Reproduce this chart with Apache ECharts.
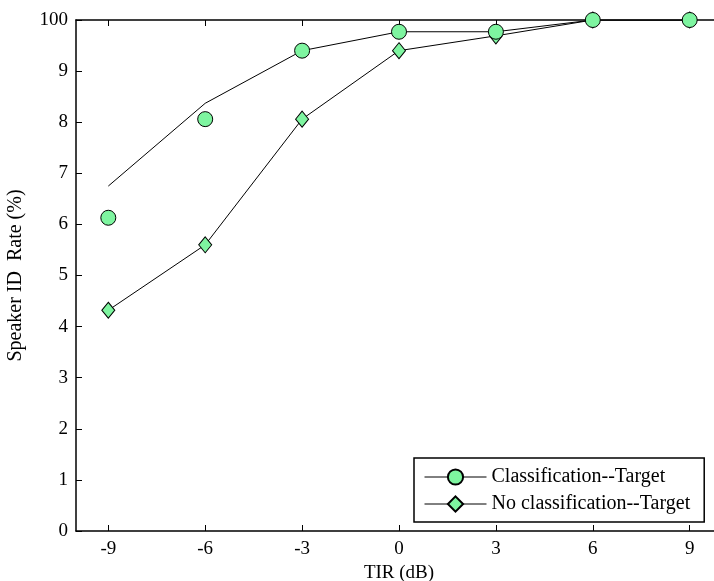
<!DOCTYPE html>
<html>
<head>
<meta charset="utf-8">
<script src="https://cdn.jsdelivr.net/npm/echarts@6/dist/echarts.min.js"></script>
<style>
  html, body { margin: 0; padding: 0; background: #fff; }
  #chart { width: 714px; height: 581px; }
</style>
</head>
<body>
<div id="chart"></div>
<script>
// x categories (TIR in dB) and tick labels
var tirValues = [-9, -6, -3, 0, 3, 6, 9];
var yTickLabels = ['0', '1', '2', '3', '4', '5', '6', '7', '8', '9', '100'];

// Classification--Target: markers and the drawn line do not coincide in the original
var classMarkers = [6.13, 8.06, 9.40, 9.77, 9.77, 10, 10];
var classLine = [6.75, 8.37, 9.40, 9.77, 9.77, 10, 10];
// No classification--Target
var noClassValues = [4.32, 5.60, 8.06, 9.40, 9.69, 10, 10];

function pairs(vals) {
    return tirValues.map(function (x, i) { return [x, vals[i]]; });
}

var font = 'Liberation Serif';
var green = '#7ef5a0';

var chart = echarts.init(document.getElementById('chart'));
chart.setOption({
    backgroundColor: '#fff',
    animation: false,
    textStyle: { fontFamily: font, color: '#000' },
    grid: { left: 76, top: 20, width: 646, height: 511, outerBoundsMode: 'none', containLabel: false },
    legend: {
        orient: 'vertical',
        left: 414,
        top: 458,
        padding: [9, 14, 8, 10],
        itemWidth: 62,
        itemHeight: 19,
        itemGap: 7,
        borderColor: '#000',
        borderWidth: 1.5,
        backgroundColor: '#fff',
        textStyle: { fontFamily: font, fontSize: 20, color: '#000' },
        lineStyle: { color: '#000', width: 1, opacity: 1 },
        data: ['Classification--Target', 'No classification--Target']
    },
    xAxis: [{
        type: 'value',
        min: -10,
        max: 10,
        name: 'TIR (dB)',
        nameLocation: 'middle',
        nameGap: 32,
        nameTextStyle: { fontFamily: font, fontSize: 19, color: '#000' },
        axisLine: { onZero: false, lineStyle: { color: '#000', width: 1.5 } },
        axisTick: { inside: true, length: 6, customValues: tirValues, lineStyle: { color: '#000' } },
        axisLabel: { customValues: tirValues, fontFamily: font, fontSize: 19, color: '#000', margin: 9 },
        splitLine: { show: false }
    }, {
        type: 'value',
        position: 'top',
        min: -10,
        max: 10,
        axisLine: { onZero: false, lineStyle: { color: '#000', width: 1.5 } },
        axisTick: { inside: true, length: 6, customValues: tirValues, lineStyle: { color: '#000' } },
        axisLabel: { show: false },
        splitLine: { show: false }
    }],
    yAxis: {
        type: 'value',
        min: 0,
        max: 10,
        interval: 1,
        name: 'Speaker ID  Rate (%)',
        nameLocation: 'middle',
        nameGap: 50,
        nameTextStyle: { fontFamily: font, fontSize: 20, color: '#000' },
        axisLine: { show: true, onZero: false, lineStyle: { color: '#000', width: 1.5 } },
        axisTick: { show: true, inside: true, length: 6, lineStyle: { color: '#000' } },
        axisLabel: {
            fontFamily: font, fontSize: 19, color: '#000', margin: 8,
            formatter: function (v) { return yTickLabels[Math.round(v)]; }
        },
        splitLine: { show: false }
    },
    series: [{
        name: 'Classification--Target',
        type: 'line',
        data: pairs(classMarkers),
        symbol: 'circle',
        symbolSize: 15,
        showAllSymbol: true,
        z: 4,
        lineStyle: { opacity: 0 },
        itemStyle: { color: green, borderColor: '#000', borderWidth: 1 }
    }, {
        name: 'Classification--Target',
        type: 'line',
        data: pairs(classLine),
        symbol: 'none',
        z: 2,
        lineStyle: { color: '#000', width: 1 }
    }, {
        name: 'No classification--Target',
        type: 'line',
        data: pairs(noClassValues),
        symbol: 'diamond',
        symbolSize: [13, 16],
        showAllSymbol: true,
        z: 3,
        lineStyle: { color: '#000', width: 1 },
        itemStyle: { color: green, borderColor: '#000', borderWidth: 1 }
    }]
});
</script>
</body>
</html>
